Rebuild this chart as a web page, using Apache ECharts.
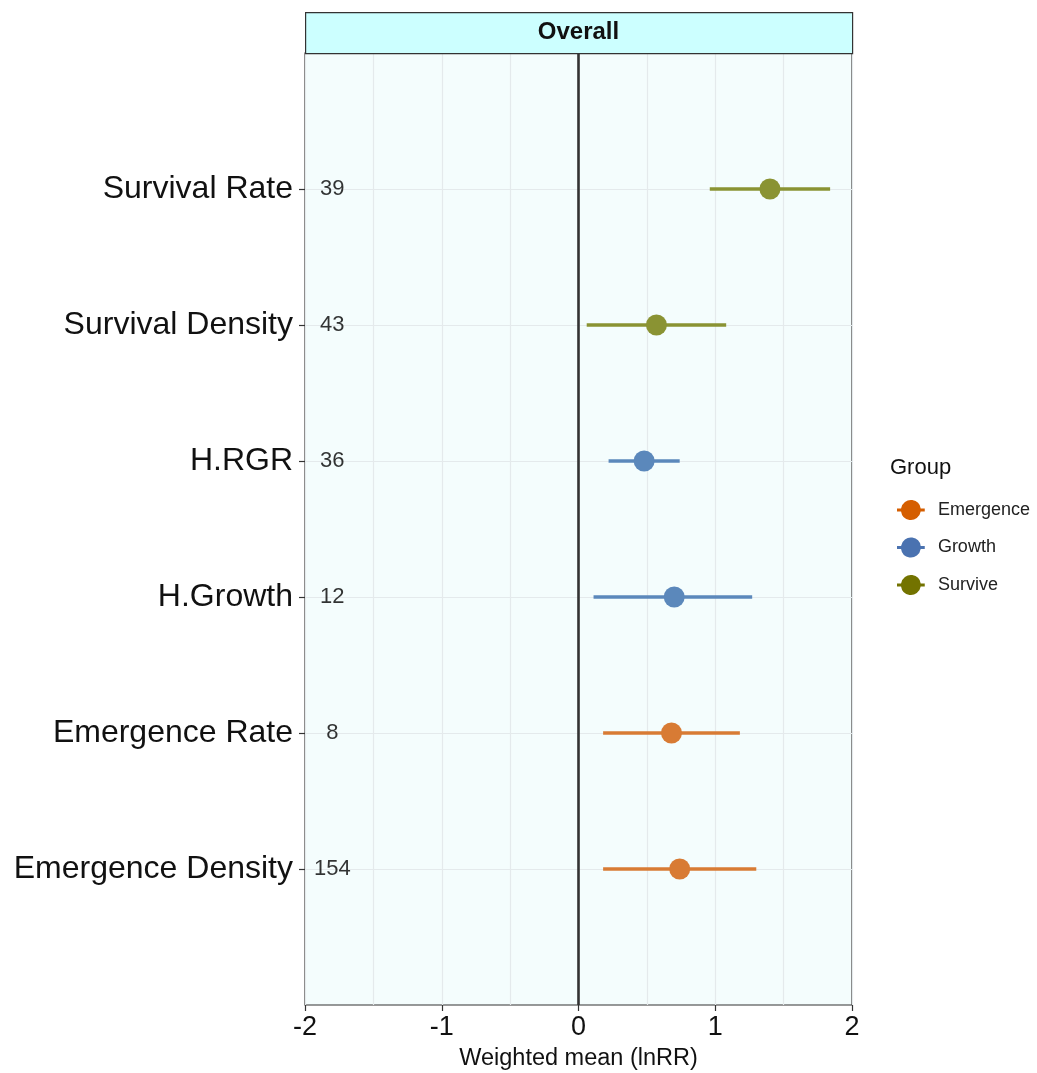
<!DOCTYPE html>
<html>
<head>
<meta charset="utf-8">
<script src="https://cdn.jsdelivr.net/npm/echarts@6/dist/echarts.min.js"></script>
<style>
  html, body { margin: 0; padding: 0; background: #ffffff; }
  #chart { width: 1037px; height: 1073px; }
</style>
</head>
<body>
<div id="chart"></div>
<script>
// Weighted mean effect sizes (lnRR) with confidence intervals, top row first
const measures = ['Survival Rate', 'Survival Density', 'H.RGR', 'H.Growth', 'Emergence Rate', 'Emergence Density'];
const measureGroups = ['Survive', 'Survive', 'Growth', 'Growth', 'Emergence', 'Emergence'];
const means = [1.40, 0.57, 0.48, 0.70, 0.68, 0.74];
const lower = [0.96, 0.06, 0.22, 0.11, 0.18, 0.18];
const upper = [1.84, 1.08, 0.74, 1.27, 1.18, 1.30];
const counts = [39, 43, 36, 12, 8, 154];
const countX = -1.8;

const groupNames = ['Emergence', 'Growth', 'Survive'];
const markColors = { Emergence: '#d87b34', Growth: '#5b88bb', Survive: '#8a9333' };
const legendColors = { Emergence: '#d55e00', Growth: '#4a72b0', Survive: '#737300' };
const xTicks = [-2, -1, 0, 1, 2];

const FONT = '"Liberation Sans", Arial, Helvetica, sans-serif';
const chart = echarts.init(document.getElementById('chart'), null, { renderer: 'canvas' });

function groupData(g) {
  const out = [];
  measures.forEach((m, i) => {
    if (measureGroups[i] === g) out.push([lower[i], upper[i], means[i], i + 1]);
  });
  return out;
}

function renderInterval(color) {
  return function (params, api) {
    const y = api.value(3);
    const p0 = api.coord([api.value(0), y]);
    const p1 = api.coord([api.value(1), y]);
    const pm = api.coord([api.value(2), y]);
    return {
      type: 'group',
      children: [
        { type: 'line', shape: { x1: p0[0], y1: p0[1], x2: p1[0], y2: p1[1] },
          style: { stroke: color, lineWidth: 3.6 } },
        { type: 'circle', shape: { cx: pm[0], cy: pm[1], r: 10.5 },
          style: { fill: color } }
      ]
    };
  };
}

const legendIcon = 'path://M0,8.5 H4.1 A10,10 0 0 1 23.9,8.5 H28 V11.5 H23.9 A10,10 0 0 1 4.1,11.5 H0 Z';

const series = groupNames.map(g => ({
  name: g,
  type: 'custom',
  renderItem: renderInterval(markColors[g]),
  data: groupData(g),
  encode: { x: [0, 1, 2], y: 3 },
  silent: true,
  z: 5
}));

// sample sizes printed at the left of the panel
series.push({
  name: 'n',
  type: 'scatter',
  symbolSize: 0,
  silent: true,
  data: counts.map((c, i) => [countX, i + 1, c]),
  label: {
    show: true, position: 'inside',
    formatter: p => String(p.value[2]),
    fontSize: 22, color: '#000', fontFamily: FONT
  },
  markLine: {
    silent: true, symbol: 'none', label: { show: false },
    lineStyle: { color: '#333333', width: 2.6, type: 'solid' },
    data: [{ xAxis: 0 }]
  },
  z: 4
});

chart.setOption({
  backgroundColor: '#ffffff',
  animation: false,
  grid: {
    left: 305, right: 185, top: 53, bottom: 68,
    outerBoundsMode: 'none', containLabel: false,
    show: true, backgroundColor: '#f4fdfd', borderColor: '#333333', borderWidth: 1.2
  },
  xAxis: {
    type: 'value', min: -2, max: 2, interval: 1,
    axisLine: { show: false, onZero: false },
    axisTick: { show: true, length: 6, lineStyle: { color: '#333333', width: 1.2 } },
    axisLabel: { fontSize: 27, color: '#111', fontFamily: FONT, margin: 9,
      customValues: xTicks },
    splitLine: { show: true, lineStyle: { color: '#e4eaec', width: 1.2 } },
    minorTick: { show: false, splitNumber: 2 },
    minorSplitLine: { show: true, lineStyle: { color: '#e4eaec', width: 1.2 } },
    name: 'Weighted mean (lnRR)', nameLocation: 'middle', nameGap: 42,
    nameTextStyle: { fontSize: 23.5, color: '#111', fontFamily: FONT }
  },
  yAxis: {
    type: 'value', min: 0, max: 7, interval: 1, inverse: true,
    axisLine: { show: false, onZero: false },
    axisTick: { show: true, length: 6, lineStyle: { color: '#333333', width: 1.2 },
      customValues: [1, 2, 3, 4, 5, 6] },
    axisLabel: {
      fontSize: 32, color: '#111', fontFamily: FONT, margin: 12,
      customValues: [1, 2, 3, 4, 5, 6],
      formatter: v => measures[v - 1] || ''
    },
    splitLine: { show: true, lineStyle: { color: '#e4eaec', width: 1.2 } }
  },
  legend: {
    orient: 'vertical', left: 892, top: 495,
    itemWidth: 28, itemHeight: 20, itemGap: 17.5,
    icon: legendIcon,
    selectedMode: false,
    textStyle: { fontSize: 18, color: '#222', fontFamily: FONT, padding: [0, 0, 0, 8] },
    data: groupNames.map(g => ({ name: g, itemStyle: { color: legendColors[g] } }))
  },
  graphic: [
    {
      type: 'rect', left: 305, top: 12, z: 10,
      shape: { width: 547, height: 41 },
      style: { fill: '#ccffff', stroke: '#333333', lineWidth: 1.2 }
    },
    {
      type: 'text', x: 578.5, y: 32.5, z: 11,
      style: { text: 'Overall', fontSize: 24, fontWeight: 'bold', fill: '#111',
        fontFamily: FONT, align: 'center', verticalAlign: 'middle' }
    },
    {
      type: 'text', x: 890, y: 468, z: 11,
      style: { text: 'Group', fontSize: 22, fill: '#111', fontFamily: FONT,
        align: 'left', verticalAlign: 'middle' }
    }
  ],
  series: series
});
</script>
</body>
</html>
